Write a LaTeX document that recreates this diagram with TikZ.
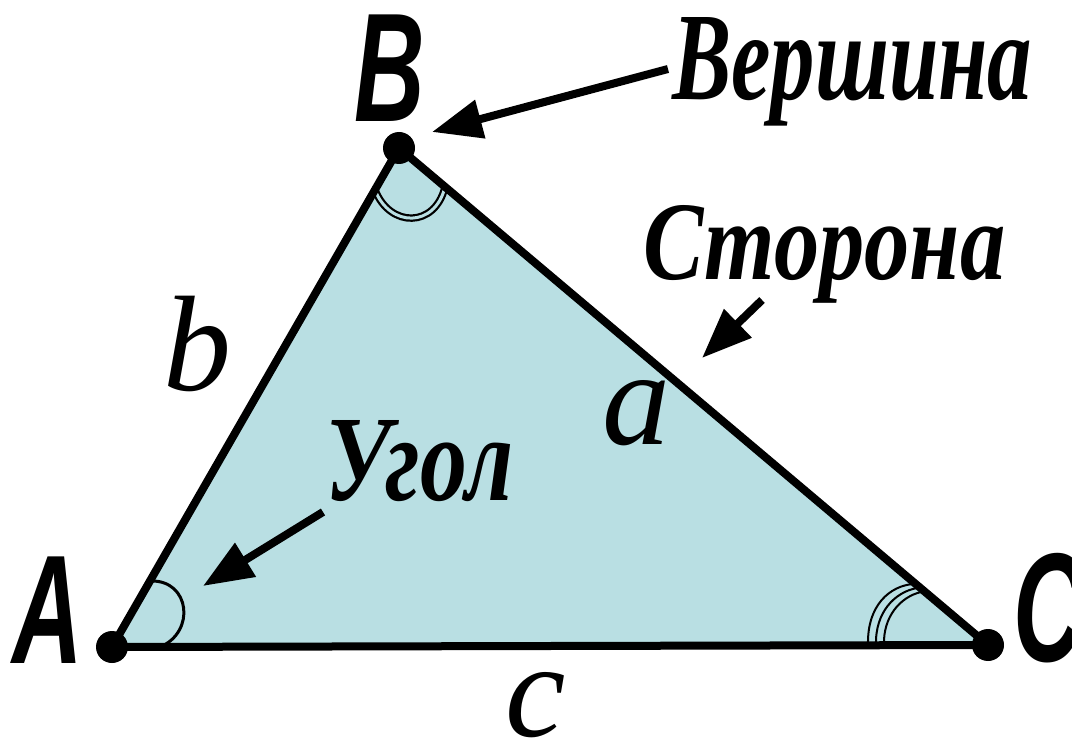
\documentclass[tikz,border=0pt]{standalone}
\usepackage{fontspec}
\setmainfont{Liberation Serif}
\setsansfont{Liberation Sans}
\usetikzlibrary{arrows.meta}
\definecolor{tri}{RGB}{185,223,227}
\newcommand\vertexlbl[1]{\scalebox{0.63}[1]{\fontsize{155}{155}\selectfont\sffamily\bfseries\itshape #1}}
\newcommand\sidelbl[1]{{\fontsize{136}{136}\selectfont\itshape #1}}
\tikzset{
  edge/.style={line width=8pt, line join=round},
  pointer/.style={line width=8pt, -{Triangle[length=50pt,width=38pt]}},
  anglearc/.style={line width=3pt},
  thinarc/.style={line width=2pt},
  vdot/.style={fill=black},
  lbl/.style={inner sep=0pt, anchor=base west}
}
\begin{document}
\begin{tikzpicture}[x=1pt,y=-1pt]
\useasboundingbox (0,0) rectangle (1072,738);
\coordinate (A) at (112,647);
\coordinate (B) at (399,148);
\coordinate (C) at (988,645);
\fill[tri] (A) -- (B) -- (C) -- cycle;
% angle marks
\draw[anglearc] (151,581) .. controls (190,580) and (196,632) .. (160,647);
\draw[line width=2.2pt, double=tri, double distance=3pt] (375,190) .. controls (390,228) and (435,228) .. (445,187);
\draw[thinarc] (868,645) .. controls (867,605) and (890,586) .. (913,584);
\draw[thinarc] (876,645) .. controls (875,612) and (895,592) .. (917,588);
\draw[thinarc] (884,645) .. controls (883,617) and (900,597) .. (921,592);
% sides
\draw[edge] (A) -- (B) -- (C) -- cycle;
\fill[vdot] (A) circle[radius=16pt];
\fill[vdot] (B) circle[radius=16pt];
\fill[vdot] (C) circle[radius=16pt];
% vertex labels
\node[lbl] (lA) at (12,663) {\vertexlbl{A}};
\node[lbl] (lB) at (354,122) {\vertexlbl{B}};
\node[lbl] (lC) at (1013,661) {\vertexlbl{C}};
% side labels
\node[lbl] (lb) at (163,390) {\sidelbl{b}};
\node[lbl] (la) at (602,444) {\sidelbl{a}};
\node[lbl] (lc) at (505,736) {\sidelbl{c}};
% words
\node[lbl] (wV) at (672,100) {\resizebox{360pt}{82pt}{\bfseries\itshape Вершина}};
\node[lbl] (wS) at (643,280) {\resizebox{362pt}{74pt}{\bfseries\itshape Сторона}};
\node[lbl] (wU) at (325,500) {\resizebox{188pt}{80pt}{\bfseries\itshape Угол}};
% pointers
\coordinate (vtail) at (668,69);
\coordinate (vhead) at (432,132);
\coordinate (stail) at (762,300);
\coordinate (shead) at (702,358);
\coordinate (utail) at (323,512);
\coordinate (uhead) at (203,586);
\draw[pointer] (vtail) -- (vhead);
\draw[pointer] (stail) -- (shead);
\draw[pointer] (utail) -- (uhead);
\end{tikzpicture}
\end{document}
